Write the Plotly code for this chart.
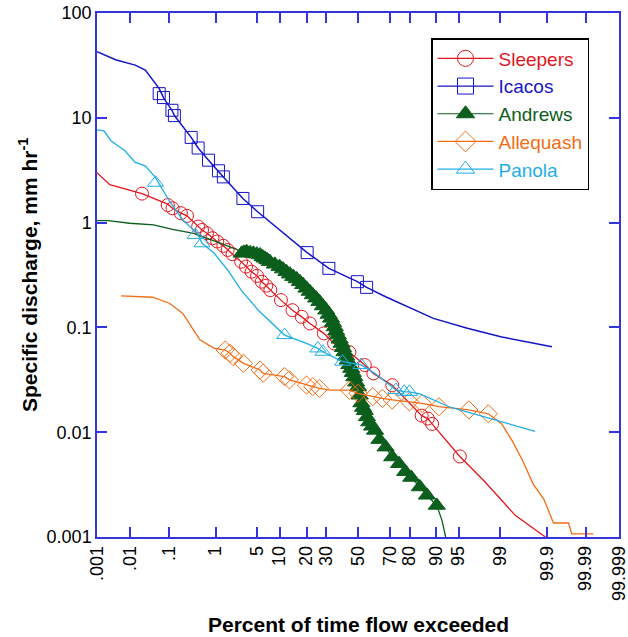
import plotly.graph_objects as go
from statistics import NormalDist

ND = NormalDist()

def z(pcts):
    return [ND.inv_cdf(p / 100.0) for p in pcts]

# ---------------- data (percent of time exceeded, specific discharge mm/hr) -------------
sleepers_line_pct = [0.001, 0.0025, 0.0208, 0.094, 0.122, 0.19, 0.26, 0.45, 0.54, 0.68, 0.87, 1.07, 1.39,
                     1.66, 2.02, 2.81, 3.36, 4.1, 4.95, 5.8, 6.7, 7.6, 10.4, 14.2, 17.9, 21.6, 28.8, 34.8,
                     44.4, 54.4, 59.9, 71.2, 85.1, 87.3, 88.7, 95.2, 98.0, 99.49, 99.89]
sleepers_line_q = [3.0, 2.3, 1.89, 1.5, 1.37, 1.23, 1.16, 0.916, 0.85, 0.79, 0.71, 0.66, 0.6,
                   0.548, 0.5, 0.424, 0.38, 0.34, 0.31, 0.273, 0.25, 0.227, 0.182, 0.146, 0.126, 0.109, 0.0877, 0.0703,
                   0.058, 0.0437, 0.0364, 0.0281, 0.0144, 0.0135, 0.012, 0.00587, 0.00346, 0.00161, 0.001]
sleepers_mk_pct = [0.0208, 0.094, 0.122, 0.19, 0.26, 0.45, 0.54, 0.68, 0.87, 1.07, 1.39, 1.66, 2.02, 2.81,
                   3.36, 4.1, 4.95, 5.8, 6.7, 7.6, 10.4, 14.2, 17.9, 21.6, 28.8, 34.8, 44.4, 54.4, 59.9,
                   71.2, 85.1, 87.3, 88.7, 95.2]
sleepers_mk_q = [1.89, 1.47, 1.37, 1.23, 1.16, 0.916, 0.85, 0.79, 0.71, 0.66, 0.6, 0.548, 0.5, 0.424,
                 0.38, 0.34, 0.31, 0.273, 0.25, 0.227, 0.182, 0.146, 0.126, 0.109, 0.0877, 0.0703, 0.058, 0.0437, 0.0364,
                 0.0281, 0.0144, 0.0135, 0.012, 0.00587]

icacos_line_pct = [0.001, 0.0039, 0.0136, 0.0255, 0.058, 0.074, 0.118, 0.135, 0.32, 0.45, 0.73, 1.13, 1.39,
                   3.0, 5.05, 20.3, 31.7, 49.6, 55.6, 67.4, 89.1, 96.3, 99.06, 99.924]
icacos_line_q = [42.8, 35.6, 31.8, 28.5, 19.0, 15.6, 11.8, 10.5, 6.5, 5.15, 3.94, 3.12, 2.73,
                 1.70, 1.27, 0.517, 0.366, 0.273, 0.241, 0.196, 0.122, 0.098, 0.081, 0.0653]
icacos_mk_pct = [0.058, 0.074, 0.118, 0.135, 0.32, 0.45, 0.73, 1.13, 1.39, 3.0, 5.05, 20.3, 31.7, 49.6, 55.6]
icacos_mk_q = [17.0, 15.6, 11.8, 10.5, 6.5, 5.15, 3.94, 3.12, 2.73, 1.70, 1.27, 0.517, 0.366, 0.273, 0.241]

andrews_line_pct = [0.001, 0.0022, 0.0096, 0.042, 0.122, 0.36, 1.25, 2.5, 2.87, 3.1, 3.44, 3.9, 4.36, 4.9,
                    5.48, 5.95, 6.43, 6.95, 7.49, 8.7, 10.0, 11.0, 12.1, 13.3, 14.5, 15.8, 17.1, 18.5, 20.0,
                    21.5, 23.0, 24.7, 26.4, 28.3, 30.2, 31.6, 33.0, 34.1, 35.2, 36.1, 37.1, 38.2, 39.4, 40.3,
                    41.3, 42.3, 43.3, 44.4, 45.6, 46.6, 47.6, 48.8, 50.0, 51.1, 52.2, 53.3, 54.4, 55.8, 57.3,
                    59.1, 61.0, 63.7, 67.4, 71.2, 74.9, 78.0, 80.8, 84.4, 87.0, 90.1, 91.5, 92.4]
andrews_line_q = [1.045, 1.045, 0.986, 0.95, 0.863, 0.79, 0.635, 0.548, 0.509, 0.52, 0.528, 0.515, 0.509, 0.5,
                  0.491, 0.47, 0.456, 0.44, 0.424, 0.4, 0.38, 0.36, 0.34, 0.322, 0.305, 0.29, 0.273, 0.255, 0.236,
                  0.22, 0.204, 0.19, 0.176, 0.16, 0.146, 0.133, 0.122, 0.111, 0.101, 0.092, 0.0844, 0.077, 0.0703, 0.064,
                  0.0584, 0.053, 0.0486, 0.044, 0.0405, 0.037, 0.0337, 0.030, 0.027, 0.0225, 0.019, 0.0172, 0.016, 0.014, 0.0125,
                  0.0114, 0.0104, 0.0085, 0.0072, 0.0058, 0.005, 0.0042, 0.0037, 0.003, 0.0025, 0.002, 0.00144, 0.001]
andrews_mk_pct = andrews_line_pct[8:70]
andrews_mk_q = andrews_line_q[8:70]

allequash_line_pct = [0.0054, 0.039, 0.103, 0.21, 0.36, 0.49, 0.94, 1.5, 1.83, 2.07, 3.07, 5.48, 6.06, 11.5,
                      13.1, 20.0, 23.0, 26.4, 32.6, 44.4, 50.0, 59.5, 65.5, 71.2, 80.0, 85.3, 90.7, 96.5, 98.34,
                      99.06, 99.41, 99.64, 99.79, 99.88, 99.93, 99.971, 99.976, 99.994]
allequash_line_q = [0.2, 0.194, 0.17, 0.136, 0.094, 0.076, 0.063, 0.0608, 0.0566, 0.0526, 0.0454, 0.0392, 0.0365, 0.0339,
                    0.0316, 0.0282, 0.0272, 0.0262, 0.0252, 0.0252, 0.0235, 0.0218, 0.021, 0.0203, 0.0195, 0.0188, 0.0175, 0.0163, 0.015,
                    0.012, 0.0083, 0.0054, 0.0032, 0.0023, 0.00136, 0.00136, 0.00107, 0.00107]
allequash_mk_pct = [1.5, 1.83, 2.07, 3.07, 5.48, 6.06, 11.5, 13.1, 20.0, 23.0, 26.4, 44.4, 50.0, 59.5, 65.5,
                    71.2, 80.0, 85.3, 90.7, 96.5, 98.34]
allequash_mk_q = [0.0608, 0.0566, 0.0526, 0.0454, 0.0392, 0.0365, 0.0339, 0.0316, 0.0282, 0.0272, 0.0262, 0.0252, 0.0235, 0.0218, 0.021,
                  0.0203, 0.0195, 0.0188, 0.0175, 0.0163, 0.015]

panola_line_pct = [0.001, 0.00166, 0.0027, 0.007, 0.0136, 0.0255, 0.047, 0.103, 0.21, 0.43, 0.54, 0.94, 1.66,
                   2.81, 5.16, 8.85, 11.5, 20.0, 25.6, 28.3, 40.1, 52.0, 61.0, 73.2, 77.5, 80.0, 84.4, 93.4, 98.1, 99.81]
panola_line_q = [7.67, 7.5, 6.05, 4.85, 3.75, 3.48, 2.69, 1.6, 1.06, 0.79, 0.635, 0.51, 0.353,
                 0.227, 0.146, 0.101, 0.0845, 0.0703, 0.063, 0.0586, 0.0471, 0.0438, 0.0363, 0.0253, 0.0243, 0.0243, 0.0232, 0.0173, 0.0139, 0.0102]
panola_mk_pct = [0.047, 0.39, 0.54, 11.5, 25.6, 28.3, 40.1, 52.0, 73.2, 77.5, 80.0]
panola_mk_q = [2.4, 0.76, 0.635, 0.0845, 0.063, 0.0586, 0.0471, 0.0438, 0.0253, 0.0243, 0.0243]

tick_pct = [0.001, 0.01, 0.1, 1, 5, 10, 20, 30, 50, 70, 80, 90, 95, 99, 99.9, 99.99, 99.999]
tick_text = [".001", ".01", ".1", "1", "5", "10", "20", "30", "50", "70", "80", "90", "95", "99", "99.9", "99.99", "99.999"]
ytick_vals = [0.001, 0.01, 0.1, 1, 10, 100]
ytick_text = ["0.001", "0.01", "0.1", "1", "10", "100"]

# ---------------- styling -------------
C_SLP = "#e3161d"
C_ICA = "#1515c8"
C_AND = "#0b5e1c"
C_ALL = "#f26c14"
C_PAN = "#1eaee8"
AXC = "#3535e0"
FONT = "Arial, Liberation Sans, sans-serif"

series = [
    ("Sleepers", C_SLP, sleepers_line_pct, sleepers_line_q, sleepers_mk_pct, sleepers_mk_q, "circle-open", 13, 1.3),
    ("Icacos", C_ICA, icacos_line_pct, icacos_line_q, icacos_mk_pct, icacos_mk_q, "square-open", 12, 1.5),
    ("Andrews", C_AND, andrews_line_pct, andrews_line_q, andrews_mk_pct, andrews_mk_q, "triangle-up", 15, 1.3),
    ("Allequash", C_ALL, allequash_line_pct, allequash_line_q, allequash_mk_pct, allequash_mk_q, "diamond-open", 14, 1.3),
    ("Panola", C_PAN, panola_line_pct, panola_line_q, panola_mk_pct, panola_mk_q, "triangle-up-open", 14, 1.3),
]

fig = go.Figure()
for name, col, lp, lq, mp, mq, sym, sz, lw in series:
    fig.add_trace(go.Scatter(x=z(lp), y=lq, mode="lines", line=dict(color=col, width=lw),
                             showlegend=False, hoverinfo="skip"))
    fig.add_trace(go.Scatter(x=z(mp), y=mq, mode="markers",
                             marker=dict(symbol=sym, size=sz, color=col, line=dict(color=col, width=1)),
                             showlegend=False))
# legend entries
for name, col, lp, lq, mp, mq, sym, sz, lw in series:
    fig.add_trace(go.Scatter(x=[None], y=[None], mode="lines+markers",
                             name=f"<span style='color:{col}'>{name}</span>",
                             line=dict(color=col, width=1.2),
                             marker=dict(symbol=sym, size=16, color=col, line=dict(color=col, width=1))))

zmin = ND.inv_cdf(1e-5)
zmax = ND.inv_cdf(1 - 1e-5)

W, H = 628, 637
L, R, T, B = 97, 9, 13, 100
PW, PH = W - L - R, H - T - B

fig.update_layout(
    width=W, height=H,
    margin=dict(l=L, r=R, t=T, b=B),
    paper_bgcolor="white", plot_bgcolor="white",
    font=dict(family=FONT, size=18, color="black"),
    showlegend=True,
    legend=dict(x=(431 - L) / PW, y=1 - (38 - T) / PH, xanchor="left", yanchor="top",
                bordercolor="black", borderwidth=1.5, bgcolor="white",
                font=dict(family=FONT, size=19), itemwidth=56,
                tracegroupgap=0),
    xaxis=dict(range=[zmin - 1e-4, zmax + 1e-4], tickmode="array", tickvals=z(tick_pct), ticktext=tick_text,
               tickangle=-90, ticks="inside", ticklen=10, tickcolor=AXC, tickwidth=1.5,
               showline=True, linecolor=AXC, linewidth=1.5, mirror="ticks", showgrid=False, zeroline=False,
               automargin=False, ticklabeloverflow="allow",
               tickfont=dict(family=FONT, size=18, color="black")),
    yaxis=dict(type="log", range=[-3, 2], tickmode="array", tickvals=ytick_vals, ticktext=ytick_text,
               ticks="inside", ticklen=10, tickcolor=AXC, tickwidth=1.5,
               showline=True, linecolor=AXC, linewidth=1.5, mirror="ticks", showgrid=False, zeroline=False,
               automargin=False, ticklabeloverflow="allow",
               tickfont=dict(family=FONT, size=18, color="black")),
    annotations=[
        dict(text="<b>Percent of time flow exceeded</b>", xref="paper", yref="paper",
             x=0.5, y=-(624 - (T + PH)) / PH, xanchor="center", yanchor="middle", showarrow=False,
             font=dict(family=FONT, size=21, color="black")),
        dict(text="<b>Specific discharge, mm hr<sup>-1</sup></b>", xref="paper", yref="paper",
             x=(28 - L) / PW, y=0.5, xanchor="center", yanchor="middle", textangle=-90, showarrow=False,
             font=dict(family=FONT, size=21, color="black")),
    ],
)

# remove the browser's default 8 px page margin so the figure fills the window exactly
fig.write_html("out.html", config={"displayModeBar": False},
               post_script="document.body.style.margin='0';document.body.style.overflow='hidden';")
